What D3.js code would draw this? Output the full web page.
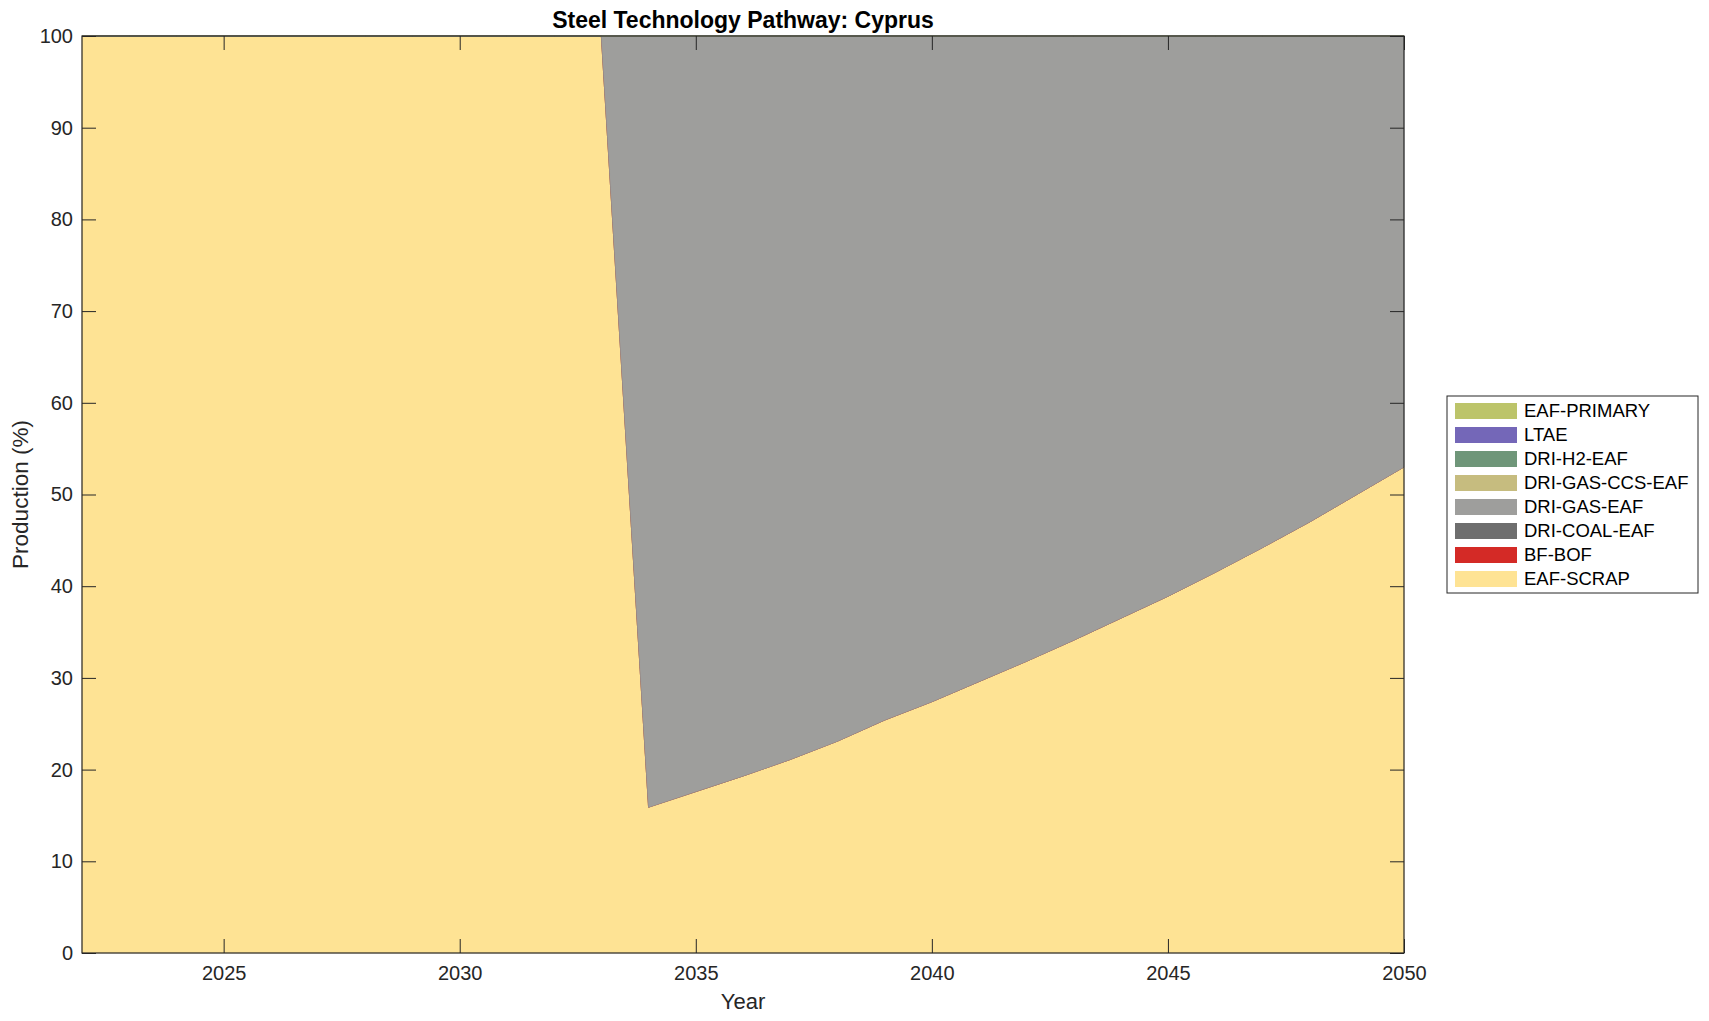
<!DOCTYPE html>
<html>
<head>
<meta charset="utf-8">
<script src="https://cdn.jsdelivr.net/npm/d3@7"></script>
<style>
  body { margin: 0; background: #fff; }
  svg { display: block; font-family: "Liberation Sans", Arial, Helvetica, sans-serif; }
</style>
</head>
<body>
<script>
// years on the x axis
const years = d3.range(2022, 2051);

// technologies, bottom of the stack first
const techs = ["EAF-SCRAP", "BF-BOF", "DRI-COAL-EAF", "DRI-GAS-EAF", "DRI-GAS-CCS-EAF", "DRI-H2-EAF", "LTAE", "EAF-PRIMARY"];
const techColors = ["#fee394", "#d42a26", "#6e6e6e", "#9e9e9c", "#c6bc7f", "#6f9679", "#7467b8", "#bcc46a"];

// production share (%) per technology, 2022..2050
const eafScrap = [100, 100, 100, 100, 100, 100, 100, 100, 100, 100, 100, 100,
  15.9, 17.6, 19.3, 21.1, 23.1, 25.4, 27.4, 29.6, 31.8, 34.1, 36.5, 38.9, 41.5, 44.2, 47.0, 50.0, 53.0];
const driGasEaf = [0, 0, 0, 0, 0, 0, 0, 0, 0, 0, 0, 0,
  84.1, 82.4, 80.7, 78.9, 76.9, 74.6, 72.6, 70.4, 68.2, 65.9, 63.5, 61.1, 58.5, 55.8, 53.0, 50.0, 47.0];
const zeros = years.map(() => 0);
const seriesByTech = {
  "EAF-SCRAP": eafScrap,
  "BF-BOF": zeros,
  "DRI-COAL-EAF": zeros,
  "DRI-GAS-EAF": driGasEaf,
  "DRI-GAS-CCS-EAF": zeros,
  "DRI-H2-EAF": zeros,
  "LTAE": zeros,
  "EAF-PRIMARY": zeros
};

const yTicks = d3.range(0, 101, 10);
const xTicks = [2025, 2030, 2035, 2040, 2045, 2050];

const width = 1709, height = 1021;
const margin = { left: 82, right: 305, top: 36, bottom: 68 };
const tickLen = 14;
const axisColor = "#262626";

// build rows for d3.stack
const rows = years.map((yr, i) => {
  const r = { year: yr };
  techs.forEach(t => r[t] = seriesByTech[t][i]);
  return r;
});

const stacked = d3.stack().keys(techs)(rows);

const x = d3.scaleLinear().domain([2022, 2050]).range([margin.left, width - margin.right]);
const y = d3.scaleLinear().domain([0, 100]).range([height - margin.bottom, margin.top]);

const svg = d3.select("body").append("svg")
  .attr("width", width)
  .attr("height", height);

const area = d3.area()
  .x(d => x(d.data.year))
  .y0(d => y(d[0]))
  .y1(d => y(d[1]));

svg.append("g")
  .selectAll("path")
  .data(stacked)
  .join("path")
  .attr("fill", (d, i) => techColors[i])
  .attr("stroke", (d, i) => techColors[i])
  .attr("stroke-width", 0.5)
  .attr("d", area);

// axes: ticks point inward, box on
const plotL = x.range()[0], plotR = x.range()[1];
const plotT = y.range()[1], plotB = y.range()[0];

const xAxis = svg.append("g")
  .attr("transform", `translate(0,${plotB})`)
  .call(d3.axisBottom(x).tickValues(xTicks).tickFormat(d3.format("d")).tickSizeInner(-tickLen).tickSizeOuter(0).tickPadding(13));
xAxis.select(".domain").remove();
xAxis.selectAll("line").attr("stroke", axisColor);
xAxis.selectAll("text").attr("font-size", 20).attr("fill", axisColor);

const xTop = svg.append("g")
  .attr("transform", `translate(0,${plotT})`)
  .call(d3.axisTop(x).tickValues(xTicks).tickFormat("").tickSizeInner(-tickLen).tickSizeOuter(0));
xTop.select(".domain").remove();
xTop.selectAll("line").attr("stroke", axisColor);

const yAxis = svg.append("g")
  .attr("transform", `translate(${plotL},0)`)
  .call(d3.axisLeft(y).tickValues(yTicks).tickSizeInner(-tickLen).tickSizeOuter(0).tickPadding(9));
yAxis.select(".domain").remove();
yAxis.selectAll("line").attr("stroke", axisColor);
yAxis.selectAll("text").attr("font-size", 20).attr("fill", axisColor);

const yRight = svg.append("g")
  .attr("transform", `translate(${plotR},0)`)
  .call(d3.axisRight(y).tickValues(yTicks).tickFormat("").tickSizeInner(-tickLen).tickSizeOuter(0));
yRight.select(".domain").remove();
yRight.selectAll("line").attr("stroke", axisColor);

svg.append("rect")
  .attr("x", plotL).attr("y", plotT)
  .attr("width", plotR - plotL).attr("height", plotB - plotT)
  .attr("fill", "none").attr("stroke", axisColor).attr("stroke-width", 1.2);

// labels
svg.append("text")
  .attr("x", (plotL + plotR) / 2).attr("y", 28)
  .attr("text-anchor", "middle")
  .attr("font-size", 23).attr("font-weight", "bold").attr("fill", "#000")
  .text("Steel Technology Pathway: Cyprus");

svg.append("text")
  .attr("x", (plotL + plotR) / 2).attr("y", 1009)
  .attr("text-anchor", "middle")
  .attr("font-size", 22).attr("fill", axisColor)
  .text("Year");

svg.append("text")
  .attr("transform", `translate(28,${(plotT + plotB) / 2}) rotate(-90)`)
  .attr("text-anchor", "middle")
  .attr("font-size", 22.5).attr("fill", axisColor)
  .text("Production (%)");

// legend, top entry is last in the stack
const legendX = 1447, legendY = 396, rowH = 24;
const legendItems = techs.map((t, i) => ({ name: t, color: techColors[i] })).reverse();

const legend = svg.append("g").attr("transform", `translate(${legendX},${legendY})`);
legend.append("rect")
  .attr("width", 251).attr("height", 197)
  .attr("fill", "#fff").attr("stroke", axisColor).attr("stroke-width", 1);

const item = legend.selectAll("g.item")
  .data(legendItems)
  .join("g")
  .attr("class", "item")
  .attr("transform", (d, i) => `translate(0,${15 + i * rowH})`);

item.append("rect")
  .attr("x", 8).attr("y", -8)
  .attr("width", 62).attr("height", 16)
  .attr("fill", d => d.color);

item.append("text")
  .attr("x", 77).attr("y", 0).attr("dy", "0.35em")
  .attr("font-size", 18.5).attr("fill", "#000")
  .text(d => d.name);
</script>
</body>
</html>
